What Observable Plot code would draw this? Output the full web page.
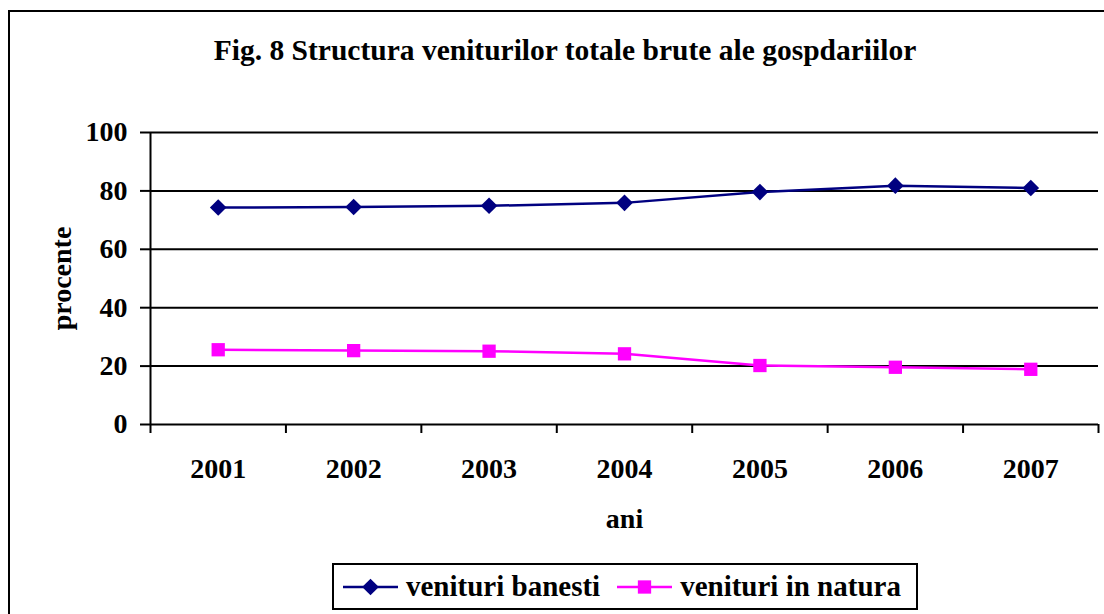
<!DOCTYPE html>
<html>
<head>
<meta charset="utf-8">
<script src="https://cdn.jsdelivr.net/npm/d3@7"></script>
<script src="https://cdn.jsdelivr.net/npm/@observablehq/plot@0.6"></script>
<style>
  html, body { margin: 0; padding: 0; background: #fff; }
  #wrap { position: relative; width: 1104px; height: 614px; overflow: hidden; background: #fff;
          font-family: "Liberation Serif", "Times New Roman", serif; font-weight: bold; color: #000; }
  #border { position: absolute; left: 8px; top: 10px; width: 1200px; height: 700px; border: 2px solid #000; }
  #title { position: absolute; left: 0; top: 36px; width: 1130px; text-align: center; font-size: 29.5px; line-height: 29px; white-space: nowrap; }
  #chart { position: absolute; left: 0; top: 100px; }
  #legend { position: absolute; left: 332px; top: 563px; width: 582px; height: 43px; border: 2px solid #000;
            display: flex; align-items: center; font-size: 29px; white-space: nowrap; background: #fff; }
  .item { display: flex; align-items: center; }
  .item svg { display: block; }
</style>
</head>
<body>
<div id="wrap">
  <div id="border"></div>
  <div id="title">Fig. 8 Structura veniturilor totale brute ale gospdariilor</div>
  <div id="chart"></div>
  <div id="legend"></div>
</div>
<script>
const years = [2001, 2002, 2003, 2004, 2005, 2006, 2007];
const banesti = [74.3, 74.5, 74.9, 75.9, 79.6, 81.8, 81.0];
const natura = [25.6, 25.3, 25.1, 24.2, 20.2, 19.6, 18.9];
const seriesNames = ["venituri banesti", "venituri in natura"];
const seriesColors = ["#000080", "#FF00FF"];
const seriesSymbols = ["diamond2", "square"];
const yTicks = [0, 20, 40, 60, 80, 100];
const yTitle = "procente";
const xTitle = "ani";

const rows = [];
[banesti, natura].forEach((vals, s) => {
  years.forEach((yr, i) => rows.push({year: yr, value: vals[i], series: seriesNames[s]}));
});
const edges = [years[0] - 0.5, ...years.map(y => y + 0.5)];
const font = {fontSize: 28, fontWeight: "bold"};

const chart = Plot.plot({
  width: 1104,
  height: 450,
  marginTop: 32,
  marginBottom: 126,
  marginLeft: 150,
  marginRight: 6,
  style: {fontFamily: '"Liberation Serif", "Times New Roman", serif', background: "transparent", overflow: "visible", color: "#000"},
  x: {domain: [edges[0], edges[edges.length - 1]]},
  y: {domain: [0, 100]},
  color: {domain: seriesNames, range: seriesColors},
  symbol: {domain: seriesNames, range: seriesSymbols},
  marks: [
    Plot.gridY(yTicks.filter(d => d > 0), {stroke: "#000", strokeOpacity: 1, strokeWidth: 2}),
    Plot.axisY({ticks: yTicks, tickSize: 10, tickPadding: 13, strokeWidth: 2, label: null, ...font}),
    Plot.axisX({ticks: years, tickSize: 0, tickPadding: 34, tickFormat: d => String(d), label: null, ...font}),
    Plot.axisX({ticks: edges, tickSize: 9, strokeWidth: 2, tickFormat: () => "", label: null}),
    Plot.ruleY([0], {stroke: "#000", strokeWidth: 2}),
    Plot.ruleX([edges[0]], {stroke: "#000", strokeWidth: 2}),
    Plot.line(rows, {x: "year", y: "value", z: "series", stroke: "series", strokeWidth: 2.5}),
    Plot.dot(rows, {x: "year", y: "value", symbol: "series", fill: "series", stroke: "none", r: 7.5}),
    Plot.text([yTitle], {frameAnchor: "left", dx: -88, rotate: -90, textAnchor: "middle", lineAnchor: "middle", text: d => d, ...font}),
    Plot.text([xTitle], {frameAnchor: "bottom", dy: 95, textAnchor: "middle", lineAnchor: "middle", text: d => d, ...font})
  ]
});
document.getElementById("chart").appendChild(chart);

// legend
const legend = document.getElementById("legend");
seriesNames.forEach((name, i) => {
  const item = document.createElement("div");
  item.className = "item";
  item.style.marginLeft = i === 0 ? "9px" : "17px";
  const ns = "http://www.w3.org/2000/svg";
  const svg = document.createElementNS(ns, "svg");
  svg.setAttribute("width", 55);
  svg.setAttribute("height", 20);
  const line = document.createElementNS(ns, "line");
  line.setAttribute("x1", 0); line.setAttribute("x2", 55);
  line.setAttribute("y1", 10); line.setAttribute("y2", 10);
  line.setAttribute("stroke", seriesColors[i]); line.setAttribute("stroke-width", 2.5);
  svg.appendChild(line);
  const sym = document.createElementNS(ns, "path");
  const symType = seriesSymbols[i] === "square" ? d3.symbolSquare : d3.symbolDiamond2;
  sym.setAttribute("d", d3.symbol(symType, Math.PI * 7.5 * 7.5)());
  sym.setAttribute("transform", "translate(27.5,10)");
  sym.setAttribute("fill", seriesColors[i]);
  svg.appendChild(sym);
  item.appendChild(svg);
  const label = document.createElement("span");
  label.textContent = name;
  label.style.marginLeft = "8px";
  item.appendChild(label);
  legend.appendChild(item);
});
</script>
</body>
</html>
